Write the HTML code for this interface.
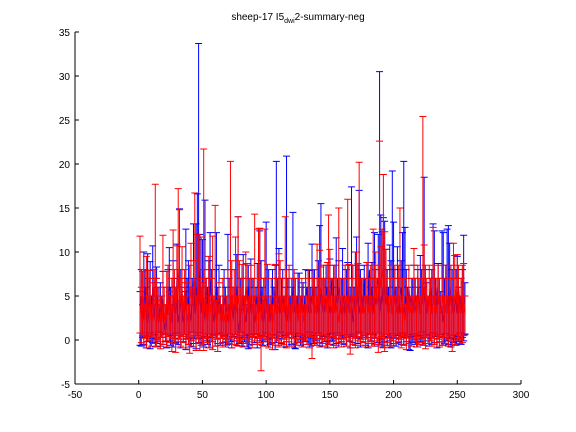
<!DOCTYPE html>
<html><head><meta charset="utf-8"><style>
body{margin:0;background:#fff;}
svg{display:block;font-family:"Liberation Sans",Helvetica,sans-serif;}
</style></head><body>
<svg id="chart" width="576" height="432" viewBox="0 0 576 432" xmlns="http://www.w3.org/2000/svg">
<rect x="0" y="0" width="576" height="432" fill="#fff"/>
<text x="298" y="20" text-anchor="middle" font-size="10">sheep-17 I5<tspan font-size="7" dy="3">dwi</tspan><tspan dy="-3">2-summary-neg</tspan></text>
<g id="marks"></g>
<g id="axes"></g>
</svg>
<script>
const xTicks=[-50,0,50,100,150,200,250,300];
const yTicks=[-5,0,5,10,15,20,25,30,35];
const meanB=[3,5,2,4,6,3,2,5,4,3,6,2,4,5,3,2,
4,3,5,2,1,3,4,6,3,2,5,4,3,7,2,3,
5,4,2,3,6,4,5,3,2,4,7,3,5,6,4,8,
3,5,4,2,6,3,4,5,7,3,2,4,6,3,5,4,
2,3,5,4,3,2,4,3,5,2,4,3,6,2,1,3,
4,5,3,2,4,6,3,5,4,3,2,4,5,3,4,6,
3,2,4,5,3,4,2,3,5,4,6,3,4,5,3,4,
5,3,4,2,3,5,4,3,6,4,3,5,2,4,3,5,
4,3,5,6,4,3,5,4,6,3,4,5,3,4,6,5,
3,4,5,6,4,3,5,7,4,3,5,4,6,5,3,4,
5,3,4,6,3,5,4,2,3,5,4,6,3,4,5,3,
7,4,5,3,8,4,6,3,5,4,6,7,3,5,4,6,
5,4,6,3,4,5,3,4,6,5,4,3,5,6,4,3,
4,5,3,6,4,5,4,3,5,4,6,5,3,4,5,6,
4,3,5,4,6,3,4,5,3,6,4,5,3,4,2,3,
4,5,3,6,4,5,3,4,5,3,6,4,5,3,4,5];
const upB=[5.5,8,4,10,8,6,9.8,7,8.9,5,10.7,4.5,7,8.3,6,4,
6.5,5,7.8,4,3,6,8,10.5,6,4,9,7,6,10.9,4.5,14.9,
8,6,4,5.5,12.6,7,9,6,4,7,13.2,5,13.2,16.6,33.7,12,
6,11.4,8,15.9,7,6,9,12.2,8,5,4.5,8,12.2,6,8.5,5,
4,5,8,6,5,12,7,5,8,4,6,5,9.7,14,3.5,7,
7,9.7,5,4,7,8.5,6,9.2,7,5,4,6,8.7,5,12.4,9,
6,4.5,7,13.4,5,8,4,5,8,6,8.5,20.3,7,10.4,5,7,
8,5,6,20.9,7,8,5,6,14.5,7,4,5,7.6,7.6,5,6,
6.5,5,8,6,7.9,7.9,6,10.9,7,8,6,7,9,13,15.5,7,
5,7,8.5,6,7,9.2,7,6,8.5,6,11.6,7,9,5,7,10.4,
7,5,8,8.8,7,6,17.4,8.5,6,10,11.7,8.5,17,8,7,5,
8.5,7,5,11,7,6,8.8,7,12.2,8,6,12,30.5,14.2,12.3,13.9,
13.5,10.3,8,6,10.8,9,19.2,13.4,8,6,10.6,7,8,9,12.2,20.3,
12.8,8,6,5,4,6,7,8.5,7,5,8,6,9.6,8,6,18.5,
8,6.5,5,4,7,8,13.2,12.4,7,5,8.7,7,5.5,12.4,12.2,7,
8.5,12.6,13,11,7,8,7,5,8,9.5,6,5,7,8,11.9,6.5];
const loB=[-0.6,-0.7,0.3,-0.5,0.5,-0.9,-0.2,0.8,-1,0.2,-0.3,0.6,-0.8,0.1,-0.4,0.9,
-0.7,0.3,-0.5,0.7,-0.2,-0.9,0.4,-0.1,-0.6,0.5,-0.8,0.2,-0.3,0.8,-0.5,0.1,
-0.9,0.4,-0.2,0.6,-1.1,0.1,-0.5,0.3,-0.7,0.9,-0.4,0.2,-1,0.5,-0.3,0.8,
-0.6,0.2,-0.8,0.4,-0.1,-0.5,0.7,-0.9,0.3,-0.2,0.6,-0.7,0.1,-0.4,0.8,-0.6,
0.2,-0.3,0.5,-0.8,0.1,-0.5,0.7,-0.2,-0.9,0.4,-0.1,0.6,-0.6,0.2,-0.4,0.9,
-0.7,0.3,-0.2,0.5,-0.8,-1,0.1,0.6,-0.5,0.3,-0.3,0.7,-0.9,0.2,-0.1,0.5,
-0.6,0.4,-0.2,0.8,-0.7,0.1,-0.5,0.3,-0.3,0.6,-1.1,-0.3,0.2,-0.6,0.9,-0.4,
0.1,-0.8,0.5,-0.2,0.3,-0.7,0.8,-0.5,0.2,-0.9,-1,0.4,-0.3,0.7,-0.6,0.1,
-0.8,0.3,-0.2,0.6,-0.5,0.9,-0.7,0.2,-0.4,0.5,-0.1,-0.6,0.8,-0.3,0.1,-0.7,
0.4,-0.2,0.6,-0.9,0.3,-0.5,0.7,-0.1,-0.6,0.2,-0.4,0.8,-0.8,0.5,-0.2,0.1,
-0.5,0.3,-0.7,0.6,-0.1,-0.9,0.4,-0.3,0.7,-0.6,0.2,-0.4,0.9,-0.8,0.1,-0.2,
0.5,-0.6,0.3,-0.9,0.7,-0.1,-0.4,0.6,-0.7,0.2,-0.3,0.8,-0.5,0.1,-0.8,0.4,
-0.2,0.6,-0.6,0.3,-0.1,-0.9,0.7,-0.4,0.2,-0.7,0.5,-0.3,0.1,-0.5,0.8,-0.6,
0.3,-0.2,0.6,-1.1,-1.2,0.4,-0.3,0.7,-0.5,0.1,-0.8,0.5,-0.2,0.9,-0.6,0.3,
-0.4,0.6,-0.1,-0.7,0.2,-0.5,0.8,-0.3,0.4,-0.9,0.1,-0.2,0.6,-0.6,0.3,-0.4,
0.7,-0.1,-0.5,0.2,-0.8,0.5,-0.3,0.1,-0.6,0.4,-0.2,0.8,-0.5,0.3,-0.1,0.6];
const meanR=[4,3,5,4,2,6,3,4,5,2,3,6,5,4,2,3,
3,2,4,3,2,4,5,3,2,4,3,5,4,6,8,5,
4,6,3,5,4,3,2,5,6,4,5,7,3,6,5,4,
6,4,3,5,4,2,6,3,4,5,3,4,2,3,4,3,
2,4,3,2,3,4,2,4,5,3,4,6,3,5,4,3,
5,4,3,6,4,3,5,4,3,4,5,2,3,4,5,2,
3,4,5,3,4,2,3,4,2,3,5,4,3,4,5,3,
4,3,5,4,3,5,2,4,3,5,4,3,2,4,3,4,
3,2,4,3,5,4,3,4,5,4,3,5,4,6,5,4,
5,4,3,5,4,6,3,4,3,5,4,3,2,4,3,3,
4,5,3,4,5,3,4,5,3,4,6,5,8,4,3,4,
3,4,5,3,4,5,3,4,5,6,4,5,7,6,8,7,
6,5,4,3,4,5,3,4,5,3,4,5,4,3,4,3,
2,4,3,5,3,4,3,5,4,3,5,4,3,4,7,6,
5,4,3,5,4,3,4,5,3,4,5,4,3,4,5,3,
4,5,3,4,5,3,4,5,6,4,5,3,4,5,3,4];
const upR=[11.8,6,7.8,8,4,9.5,5,7.9,7,4,6.5,8,17.7,7,4.5,6,
5,4,11.9,6,4,7.8,8.5,5.5,5,7,12.5,8,6,10.7,17.2,14.8,
7,10.6,5,8,6.5,5,4,8.5,11,6,9,16.7,5,12,11.7,7,
11.7,6.5,21.7,8,7,4,9.5,5,7,11.8,5,15.3,4.5,5,6.5,5,
4,7,5,4,5,8,4,20.3,9,6,8,11.7,5,14,9,6,
8.6,7,5,10,8.7,5,7,8.5,5,7,14.3,4,5,12.6,12.7,4,
5,7,12.6,5,8.6,4,5,7,4,5,8.6,7,5,9.8,9,5,
7,5,14,8,5,8.5,4,7,5,8,7,5,4,7,5,7,
5,4,7,5,8,7,5,7,8,7,5,10.9,7,10.2,8.3,7,
8.5,7,5,8.8,14.2,10.3,5,7,5,8.5,7,5,15,7,5,5,
7,8.5,5,16,8.6,5,7,8.5,5,7,10,8.7,20.2,7,5,7,
5,7,8.8,5,7,8.5,5,12.6,8.5,10,7,8.5,22.6,10.6,12.6,18.8,
12.3,10.3,7,5,7,8.5,5,7,8.5,5,7,8.5,15,5,7,5,
4,7,5,8.5,5,7,5,10.4,7,5,8.5,7,5,7,25.4,10.8,
8.5,7,5,8.5,7,5,12.8,8.5,5,7,8.5,7,5,7,8.5,5,
7,8.5,5,7,8.5,5,11,9.6,7,9.7,8.5,5,7,8.5,8.7,5];
const loR=[0.8,-0.3,0.5,-0.6,0.2,-0.9,0.4,-0.1,0.6,-0.7,0.3,-0.4,0.9,-0.8,0.1,-0.2,
-1,0.3,-0.5,0.6,-0.1,-0.8,0.4,-0.3,0.7,-1.3,0.2,-0.4,-1.4,0.5,-0.2,0.1,
-0.7,0.4,-0.3,0.6,-0.9,0.2,-0.5,-1.5,0.3,-0.1,-0.8,0.5,-1.2,0.1,-0.4,-1.2,
0.3,-0.6,-1.2,0.2,-0.3,0.7,-0.9,0.4,-0.2,-1.1,0.5,-0.7,0.1,-1.3,0.6,-0.4,
0.2,-0.8,0.4,-0.2,-0.6,0.7,-0.4,0.1,-0.9,0.3,-0.5,0.6,-0.1,-0.7,0.2,-0.3,
0.5,-0.8,0.1,-0.4,0.7,-0.2,-0.6,0.3,-0.9,0.4,-0.1,0.6,-0.5,0.2,-0.3,-3.5,
0.4,-0.7,0.1,-0.2,0.6,-0.9,0.3,-0.4,-1.1,0.2,-0.6,0.5,-0.1,-0.8,0.4,-0.3,
0.7,-0.5,0.1,-0.9,0.3,-0.2,0.6,-0.7,0.2,-0.4,0.8,-0.6,0.1,-0.3,0.5,-0.8,
0.2,-0.1,0.6,-0.5,0.3,-0.9,0.4,-2.1,0.7,-0.6,0.1,-0.3,0.5,-0.8,0.2,-0.4,
0.6,-0.1,-0.7,0.3,-0.5,0.8,-0.2,0.4,-0.9,0.1,-0.6,0.5,-0.3,0.2,-0.8,0.6,
-0.4,0.1,-0.7,0.3,-0.2,-1.6,0.5,-0.5,0.2,-0.9,0.4,-0.1,0.7,-0.6,0.3,-0.3,
0.5,-0.8,0.1,-0.4,0.6,-0.2,-0.7,0.3,-0.5,0.8,-0.1,-1.4,0.2,-0.6,0.4,-0.9,
-1.3,0.6,-0.3,0.2,-0.8,0.5,-0.1,-0.6,0.3,-0.4,0.7,-0.2,0.1,-0.9,0.4,-0.5,
0.6,-1.1,0.2,-0.4,0.3,-0.7,0.5,-0.2,0.1,-0.8,0.4,-0.5,0.6,-0.3,0.2,-0.6,
-1,0.3,-0.4,0.5,-0.1,-0.7,0.2,-0.5,0.6,-0.3,0.1,-0.8,0.4,-0.2,-0.6,0.3,
-0.4,0.1,-0.7,0.5,-0.2,-1.3,0.3,-0.5,0.6,-0.1,0.2,-0.4,0.1,-0.3,0.5,0.7];
const X0=75,X1=521,Y0=384,Y1=32;
function sx(v){return X0+(v+50)/350*(X1-X0);}
function sy(v){return Y0-(v+5)/40*(Y0-Y1);}
const NS="http://www.w3.org/2000/svg";
const marks=document.getElementById('marks');
const axes=document.getElementById('axes');
function mk(tag,attrs,parent){const e=document.createElementNS(NS,tag);for(const k in attrs)e.setAttribute(k,attrs[k]);parent.appendChild(e);return e;}
function drawSeries(mean,up,lo,color,name){
  const g=mk('g',{},marks);
  
  
  let d='';
  for(let i=0;i<mean.length;i++){
    const x=sx(i+1),yu=sy(up[i]),yl=sy(lo[i]);
    d+='M'+x+' '+yu+'V'+yl+'M'+(x-3.5)+' '+yu+'H'+(x+3.5)+'M'+(x-3.5)+' '+yl+'H'+(x+3.5);
  }
  const bars=mk('path',{d:d,stroke:color,'stroke-width':1,fill:'none'},g);
  
  
  let pl='';
  for(let i=0;i<mean.length;i++){pl+=(i?'L':'M')+sx(i+1)+' '+sy(mean[i]);}
  const line=mk('path',{d:pl,stroke:color,'stroke-width':1,fill:'none'},g);
  
  
}
drawSeries(meanB,upB,loB,'#0000ff','series-blue');
drawSeries(meanR,upR,loR,'#ff0000','series-red');
const xa=mk('line',{x1:X0,y1:Y0,x2:X1,y2:Y0,stroke:'#000','stroke-width':1},axes);


const ya=mk('line',{x1:X0,y1:Y0,x2:X0,y2:Y1,stroke:'#000','stroke-width':1},axes);


xTicks.forEach(t=>{
  const x=sx(t);
  const tk=mk('line',{x1:x,y1:Y0,x2:x,y2:Y0-4,stroke:'#000','stroke-width':1},axes);
  
  
  const lb=mk('text',{x:x,y:Y0+14,'text-anchor':'middle','font-size':10},axes);
  lb.textContent=t;
  
  
});
yTicks.forEach(t=>{
  const y=sy(t);
  const tk=mk('line',{x1:X0,y1:y,x2:X0+4,y2:y,stroke:'#000','stroke-width':1},axes);
  
  
  const lb=mk('text',{x:X0-5,y:y+4,'text-anchor':'end','font-size':10},axes);
  lb.textContent=t;
  
  
});
</script>
</body></html>
